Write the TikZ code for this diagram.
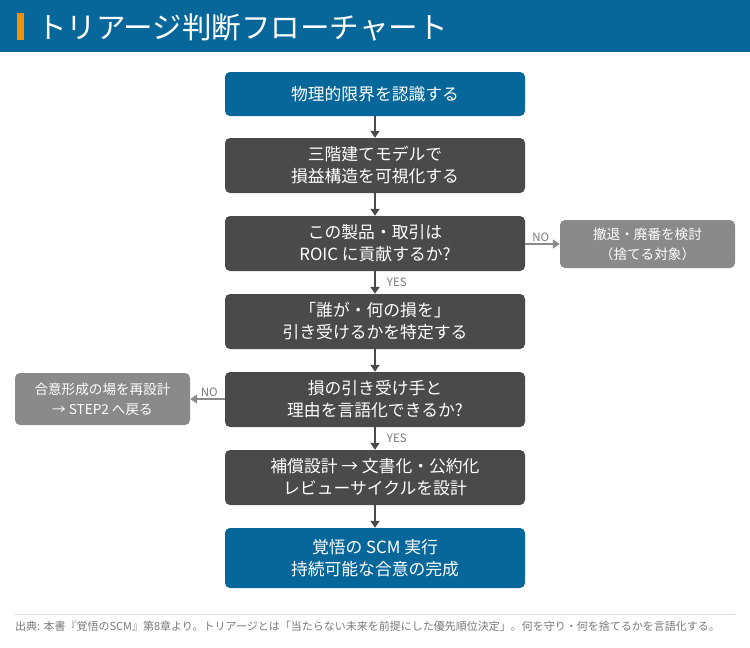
\documentclass[tikz,border=0pt]{standalone}
\usepackage{fontspec}
\setmainfont{Noto Sans CJK JP}
\usetikzlibrary{arrows.meta}
\definecolor{hdrblue}{HTML}{07679B}
\definecolor{boxblue}{HTML}{07679B}
\definecolor{boxdark}{HTML}{4A4A4A}
\definecolor{boxgray}{HTML}{8A8A8A}
\definecolor{accent}{HTML}{F39200}
\definecolor{lblgray}{HTML}{7A7A7A}
\begin{document}
\begin{tikzpicture}[x=1pt,y=-1pt,
  mainbox/.style={rounded corners=5pt, text=white, minimum width=300pt, align=center, font=\fontsize{16.8pt}{22pt}\selectfont, inner sep=0pt},
  bluebox/.style={mainbox, fill=boxblue},
  darkbox/.style={mainbox, fill=boxdark},
  sidebox/.style={rounded corners=5pt, fill=boxgray, text=white, minimum width=175pt, align=center, font=\fontsize{13.6pt}{20pt}\selectfont, inner sep=0pt},
  arr/.style={draw=boxdark, line width=1.8pt, -{Triangle[width=9pt,length=7pt]}},
  sarr/.style={draw=boxgray, line width=1.6pt, -{Triangle[width=9pt,length=7pt]}},
  lbl/.style={font=\fontsize{11.5pt}{13pt}\selectfont, text=lblgray, inner sep=0pt}
]
\useasboundingbox (0,0) rectangle (750,648);
\fill[white] (0,0) rectangle (750,648);
\fill[hdrblue] (0,0) rectangle (750,52);
\fill[accent] (17,13) rectangle (24,40);
\node[anchor=west, text=white, inner sep=0pt, font=\fontsize{29.5pt}{32pt}\selectfont] (title) at (37,27) {トリアージ判断フローチャート};

\node[bluebox, minimum height=44pt] (b1) at (375,94) {物理的限界を認識する};
\node[darkbox, minimum height=55pt] (b2) at (375,165.5) {三階建てモデルで\\損益構造を可視化する};
\node[darkbox, minimum height=55pt] (b3) at (375,243.5) {この製品・取引は\\ROIC に貢献するか?};
\node[darkbox, minimum height=55pt] (b4) at (375,321.5) {「誰が・何の損を」\\引き受けるかを特定する};
\node[darkbox, minimum height=55pt] (b5) at (375,399.5) {損の引き受け手と\\理由を言語化できるか?};
\node[darkbox, minimum height=55pt] (b6) at (375,477.5) {補償設計 → 文書化・公約化\\レビューサイクルを設計};
\node[bluebox, minimum height=60pt] (b7) at (375,558) {覚悟の SCM 実行\\持続可能な合意の完成};

\node[sidebox, minimum height=48pt] (r1) at (647.5,244) {撤退・廃番を検討\\（捨てる対象）};
\node[sidebox, minimum height=52pt] (l1) at (102.5,399) {合意形成の場を再設計\\→ STEP2 へ戻る};

\draw[arr] (b1) -- (b2);
\draw[arr] (b2) -- (b3);
\draw[arr] (b3) -- node[lbl, anchor=west, xshift=11pt] {YES} (b4);
\draw[arr] (b4) -- (b5);
\draw[arr] (b5) -- node[lbl, anchor=west, xshift=11pt] {YES} (b6);
\draw[arr] (b6) -- (b7);
\draw[sarr] (b3.east |- r1) -- node[lbl, anchor=south, yshift=2pt, pos=0.45] {NO} (r1.west);
\draw[sarr] (b5.west |- l1) -- node[lbl, anchor=south, yshift=2pt, pos=0.45] {NO} (l1.east);

\draw[draw=black!12, line width=1pt] (15,614) coordinate (f1) -- (735,614) coordinate (f2);
\node[anchor=west, inner sep=0pt, text=lblgray, font=\fontsize{11pt}{13pt}\selectfont] (foot) at (15,626) {出典: 本書『覚悟のSCM』第8章より。トリアージとは「当たらない未来を前提にした優先順位決定」。何を守り・何を捨てるかを言語化する。};
\end{tikzpicture}
\end{document}
